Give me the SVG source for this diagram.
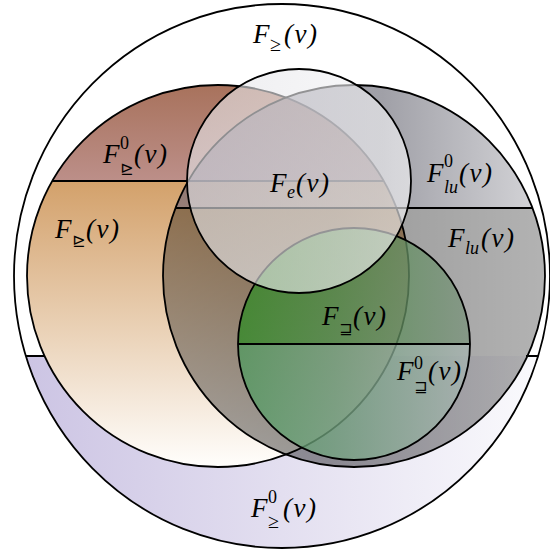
<svg xmlns="http://www.w3.org/2000/svg" width="550" height="549" viewBox="0 0 550 549">
<defs>
<linearGradient id="lavG" gradientUnits="userSpaceOnUse" x1="14" y1="0" x2="550" y2="0"><stop offset="0" stop-color="#cbc3e3"/><stop offset="1" stop-color="#fbfbfd"/></linearGradient>
<linearGradient id="brownG" gradientUnits="userSpaceOnUse" x1="0" y1="85" x2="0" y2="181"><stop offset="0" stop-color="#a8725c"/><stop offset="1" stop-color="#bc8f89"/></linearGradient>
<linearGradient id="orangeG" gradientUnits="userSpaceOnUse" x1="0" y1="181" x2="0" y2="467"><stop offset="0" stop-color="#d3a16b"/><stop offset="1" stop-color="#fffefc"/></linearGradient>
<linearGradient id="grayUpG" gradientUnits="userSpaceOnUse" x1="175" y1="0" x2="533" y2="0"><stop offset="0" stop-color="#6a6078"/><stop offset="0.58" stop-color="#61616d"/><stop offset="1" stop-color="#b4b4ba"/></linearGradient>
<linearGradient id="grayLowG" gradientUnits="userSpaceOnUse" x1="163" y1="0" x2="545" y2="0"><stop offset="0" stop-color="#000" stop-opacity="0.34"/><stop offset="0.45" stop-color="#000" stop-opacity="0.4"/><stop offset="1" stop-color="#000" stop-opacity="0.3"/></linearGradient>
<linearGradient id="greenUpG" gradientUnits="userSpaceOnUse" x1="238" y1="0" x2="470" y2="0"><stop offset="0" stop-color="#2d8a22"/><stop offset="1" stop-color="#7a927c"/></linearGradient>
<linearGradient id="greenLowG" gradientUnits="userSpaceOnUse" x1="238" y1="0" x2="470" y2="0"><stop offset="0" stop-color="#4f9a5e"/><stop offset="1" stop-color="#a7b4b1"/></linearGradient>
<linearGradient id="feG" gradientUnits="userSpaceOnUse" x1="187" y1="0" x2="411" y2="0"><stop offset="0" stop-color="#e2e2e6"/><stop offset="1" stop-color="#f6f6f8"/></linearGradient>
</defs>
<style>
.ln{fill:none;stroke:#000;stroke-width:1.8}
.lbl{font-family:"Liberation Serif","Times New Roman",serif;font-style:italic;font-size:27px;fill:#000}
.sc{font-size:18px}
.num{font-style:normal;font-size:18px}
.sym{font-family:"DejaVu Sans",sans-serif;font-style:normal;font-size:16px}
.ge{font-family:"Liberation Serif",serif;font-style:normal;font-size:20px}
</style>
<g id="outer">
<ellipse cx="282" cy="276" rx="268" ry="272" fill="#fff"/>
<path d="M26 356 A268 272 0 0 0 538 356 Z" fill="url(#lavG)"/>
<ellipse class="ln" cx="282" cy="276" rx="268" ry="272"/>
<path class="ln" d="M26 356 H46 M526 356 H538"/>
</g>
<g id="orange">
<path d="M52.3 181 A191 191 0 0 1 383.7 181 Z" fill="url(#brownG)"/>
<path d="M52.3 181 A191 191 0 1 0 383.7 181 Z" fill="url(#orangeG)"/>
<circle class="ln" cx="218" cy="276" r="191"/>
<path class="ln" d="M52.3 181 H383.7"/>
</g>
<g id="gray">
<path d="M175.5 208 A191 191 0 0 1 532.5 208 Z" fill="url(#grayUpG)" fill-opacity="0.6"/>
<path d="M175.5 208 A191 191 0 1 0 532.5 208 Z" fill="url(#grayLowG)"/>
<circle class="ln" cx="354" cy="276" r="191"/>
<path class="ln" d="M175.5 208 H532.5"/>
</g>
<g id="green">
<path d="M238 344 A116 116 0 0 1 470 344 Z" fill="url(#greenUpG)" fill-opacity="0.75"/>
<path d="M238 344 A116 116 0 0 0 470 344 Z" fill="url(#greenLowG)" fill-opacity="0.75"/>
<circle class="ln" cx="354" cy="344" r="116"/>
<path class="ln" d="M238 344 H470"/>
</g>
<g id="fe">
<circle cx="299" cy="181" r="112" fill="url(#feG)" fill-opacity="0.62"/>
<circle class="ln" cx="299" cy="181" r="112"/>
</g>
<g id="labels">
<text class="lbl"><tspan x="253" y="43">F</tspan><tspan class="ge" x="270" y="51">≥</tspan><tspan x="284" y="43" letter-spacing="1.5">(v)</tspan></text>
<text class="lbl"><tspan x="103" y="163">F</tspan><tspan class="num" x="120" y="149">0</tspan><tspan class="sym" x="120" y="174">⊵</tspan><tspan x="134" y="163" letter-spacing="1.5">(v)</tspan></text>
<text class="lbl"><tspan x="55" y="238">F</tspan><tspan class="sym" x="72" y="246">⊵</tspan><tspan x="86" y="238" letter-spacing="1.5">(v)</tspan></text>
<text class="lbl"><tspan x="270" y="192">F</tspan><tspan class="sc" x="287" y="198">e</tspan><tspan x="296" y="192" letter-spacing="1.5">(v)</tspan></text>
<text class="lbl"><tspan x="427" y="182">F</tspan><tspan class="num" x="444" y="167">0</tspan><tspan class="sc" x="444" y="193">lu</tspan><tspan x="459" y="182" letter-spacing="1.5">(v)</tspan></text>
<text class="lbl"><tspan x="448" y="247">F</tspan><tspan class="sc" x="465" y="254">lu</tspan><tspan x="481" y="247" letter-spacing="1.5">(v)</tspan></text>
<text class="lbl"><tspan x="322" y="325">F</tspan><tspan class="sym" x="339" y="334">⊒</tspan><tspan x="353" y="325" letter-spacing="1.5">(v)</tspan></text>
<text class="lbl"><tspan x="397" y="380">F</tspan><tspan class="num" x="414" y="369">0</tspan><tspan class="sym" x="414" y="392">⊒</tspan><tspan x="428" y="380" letter-spacing="1.5">(v)</tspan></text>
<text class="lbl"><tspan x="251" y="517">F</tspan><tspan class="num" x="268" y="503">0</tspan><tspan class="ge" x="268" y="528">≥</tspan><tspan x="283" y="517" letter-spacing="1.5">(v)</tspan></text>
</g>
</svg>
